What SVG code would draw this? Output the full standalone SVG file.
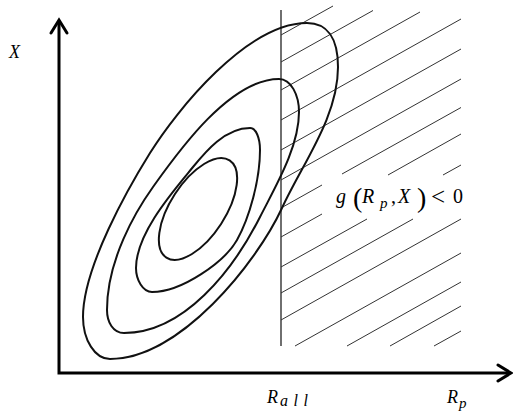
<svg xmlns="http://www.w3.org/2000/svg" width="513" height="416" viewBox="0 0 513 416">
<style>
.ax{fill:none;stroke:#000;stroke-width:3;stroke-linejoin:miter}
.ah{fill:none;stroke:#000;stroke-width:3;stroke-linecap:round;stroke-linejoin:miter}
.ct{fill:none;stroke:#111;stroke-width:2}
.h{stroke:#333;stroke-width:1}
.vl{stroke:#222;stroke-width:1.3}
.t{font-family:"Liberation Serif","DejaVu Serif",serif;font-style:italic;fill:#000}
.n{font-family:"Liberation Serif","DejaVu Serif",serif;font-style:normal;fill:#000}
</style>
<rect width="513" height="416" fill="#fff"/>
<g id="axes">
<path class="ax" d="M59,22 V373 H509"/>
<polyline class="ah" points="51,33 59,20 67,33"/>
<polyline class="ah" points="498,365 511,373 498,381"/>
</g>
<g id="limit">
<line class="vl" x1="281" y1="10" x2="281" y2="346"/>
</g>
<g id="hatch">
<line class="h" x1="281" y1="35" x2="333" y2="6"/>
<line class="h" x1="281" y1="62" x2="373" y2="10.5"/>
<line class="h" x1="281" y1="90" x2="420" y2="12"/>
<line class="h" x1="281" y1="120" x2="461" y2="19"/>
<line class="h" x1="281" y1="150" x2="461" y2="49"/>
<line class="h" x1="281" y1="180" x2="461" y2="79"/>
<line class="h" x1="281" y1="208" x2="322" y2="185"/>
<line class="h" x1="342" y1="174" x2="461" y2="107.5"/>
<line class="h" x1="281" y1="237" x2="322" y2="214"/>
<line class="h" x1="388" y1="175" x2="461" y2="134"/>
<line class="h" x1="281" y1="267" x2="367" y2="219"/>
<line class="h" x1="443" y1="175" x2="461" y2="165"/>
<line class="h" x1="281" y1="293" x2="413" y2="219"/>
<line class="h" x1="281" y1="320" x2="461" y2="219"/>
<line class="h" x1="295" y1="346" x2="461" y2="253"/>
<line class="h" x1="347" y1="346" x2="461" y2="282"/>
<line class="h" x1="390" y1="346" x2="461" y2="306"/>
<line class="h" x1="434" y1="346" x2="461" y2="331"/>
</g>
<g id="contours">
<path id="c4" class="ct" d="M307,23 C327,23 338,38 338,67 C338,117 303,162.5 282,208 C256.8,262.6 180,359 110,359 C95,359 83,340 83,317 C83,267 128.8,187 150,153 C176.5,110.5 247,23 307,23 Z"/>
<path id="c3" class="ct" d="M279,79 C291,79 299,95 299,112 C299,147 275.75,185.9 260,217 C233,270.4 184,333 124,333 C113,333 107,322 107,310 C107,260 135.6,211.3 153,187 C176.2,154.6 229,79 279,79 Z"/>
<path id="c2" class="ct" d="M250,128 C256,128 260,138 260,150 C260,180 249.3,218.3 237,240 C224.75,261.75 182,292 152,292 C143,292 136,280 136,268 C136,233 174.1,190.1 193,167 C205.6,151.6 225,128 250,128 Z"/>
<ellipse id="c1" class="ct" cx="198" cy="209" rx="58" ry="27.5" transform="rotate(-57 198 209)"/>
</g>
<g id="labels">
<text class="t" x="9" y="58" font-size="18">X</text>
<text class="t" y="203" font-size="20"><tspan x="336">g</tspan><tspan class="n" x="353" y="207" font-size="28">(</tspan><tspan x="362" y="203">R</tspan><tspan x="380" y="208" font-size="15">p</tspan><tspan class="n" x="391" y="203">,</tspan><tspan x="398">X</tspan><tspan class="n" x="417" y="207" font-size="28">)</tspan><tspan class="n" x="431" y="205" font-size="25">&lt;</tspan><tspan class="n" x="453" y="203">0</tspan></text>
<text class="t" x="267" y="403" font-size="18">R<tspan x="280" y="406" font-size="16" textLength="28" lengthAdjust="spacing">all</tspan></text>
<text class="t" x="447" y="403" font-size="18">R<tspan x="459" y="408" font-size="15">p</tspan></text>
</g>
</svg>
